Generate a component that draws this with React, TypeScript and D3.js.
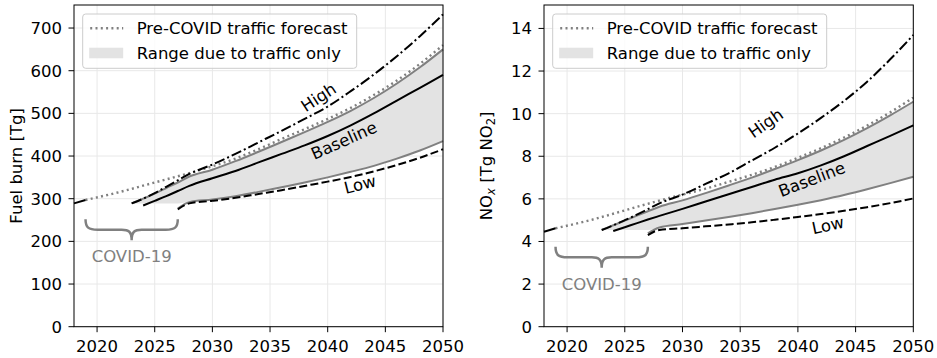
import React, { useRef, useEffect } from 'react';
import * as d3 from 'd3';

// years
const histYears = [2018, 2019];
const preCovidYears = [2019, 2022, 2025, 2028, 2030, 2032, 2034, 2036, 2038, 2040, 2042, 2044, 2046, 2048, 2050];
const scenarioYears = [2023, 2024, 2025, 2026, 2027, 2028, 2030, 2032, 2034, 2036, 2038, 2040, 2042, 2044, 2046, 2048, 2050];
const covidSpan = [2019, 2027];

// fuel burn [Tg]
const fuelHist = [289, 297];
const fuelPreCovid = [297, 316, 338, 360, 376, 394, 416, 440, 463, 487, 513, 543, 577, 616, 660];
const fuelHigh = [289, 300, 313, 328, 343, 358, 380, 405, 432, 459, 487, 516, 552, 591, 634, 681, 732];
const fuelTrafficHigh = [289, 300, 312, 325, 338, 352, 368, 388, 410, 433, 456, 480, 506, 536, 570, 608, 650];
const fuelBaseline = [null, 284, 295, 306, 318, 330, 348, 365, 385, 405, 425, 447, 472, 500, 530, 560, 590];
const fuelTrafficLow = [null, null, null, null, 277, 292, 298, 306, 316, 327, 338, 350, 363, 377, 394, 413, 435];
const fuelLow = [null, null, null, null, 275, 289, 295, 302, 311, 320, 330, 340, 351, 364, 379, 396, 416];
const fuelBandFloor = 289;

// NOx [Tg NO2]
const noxHist = [4.46, 4.62];
const noxPreCovid = [4.62, 5.0, 5.46, 5.92, 6.2, 6.48, 6.8, 7.13, 7.5, 7.93, 8.38, 8.88, 9.44, 10.06, 10.76];
const noxHigh = [4.54, 4.76, 5.0, 5.25, 5.52, 5.79, 6.2, 6.7, 7.2, 7.8, 8.4, 9.07, 9.8, 10.6, 11.5, 12.55, 13.69];
const noxTrafficHigh = [4.54, 4.76, 4.98, 5.2, 5.42, 5.63, 5.93, 6.27, 6.63, 7.0, 7.4, 7.82, 8.27, 8.77, 9.32, 9.92, 10.56];
const noxBaseline = [null, 4.49, 4.67, 4.85, 5.03, 5.2, 5.53, 5.88, 6.22, 6.56, 6.9, 7.2, 7.57, 8.0, 8.48, 8.96, 9.45];
const noxTrafficLow = [null, null, null, null, 4.38, 4.66, 4.82, 4.98, 5.15, 5.33, 5.52, 5.72, 5.94, 6.18, 6.45, 6.74, 7.04];
const noxLow = [null, null, null, null, 4.3, 4.54, 4.62, 4.71, 4.8, 4.9, 5.02, 5.15, 5.29, 5.44, 5.61, 5.8, 6.02];
const noxBandFloor = 4.54;

const xTicks = [2020, 2025, 2030, 2035, 2040, 2045, 2050];
const fuelTicks = [0, 100, 200, 300, 400, 500, 600, 700];
const noxTicks = [0, 2, 4, 6, 8, 10, 12, 14];

const FONT = '"DejaVu Sans", sans-serif';
const FS = 16.5;
const TOP = 5;
const BOTTOM = 326.7;
const GRAY = '#808080';

type Panel = {
  x0: number; x1: number; yMax: number; yTicks: number[];
  hist: number[]; preCovid: number[]; high: number[]; trafficHigh: number[];
  baseline: (number | null)[]; trafficLow: (number | null)[]; low: (number | null)[];
  floor: number;
  labels: { text: string; yr: number; v: number; angle: number }[];
  braceTop: number; covidLabel: number;
  ylabel: 'fuel' | 'nox';
};

const panels: Panel[] = [
  {
    x0: 74, x1: 443, yMax: 754, yTicks: fuelTicks,
    hist: fuelHist, preCovid: fuelPreCovid, high: fuelHigh, trafficHigh: fuelTrafficHigh,
    baseline: fuelBaseline, trafficLow: fuelTrafficLow, low: fuelLow, floor: fuelBandFloor,
    labels: [
      { text: 'High', yr: 2039.2, v: 538, angle: -33 },
      { text: 'Baseline', yr: 2041.4, v: 437, angle: -24 },
      { text: 'Low', yr: 2042.8, v: 334, angle: -14 },
    ],
    braceTop: 252, covidLabel: 166, ylabel: 'fuel',
  },
  {
    x0: 544, x1: 913.3, yMax: 15.1, yTicks: noxTicks,
    hist: noxHist, preCovid: noxPreCovid, high: noxHigh, trafficHigh: noxTrafficHigh,
    baseline: noxBaseline, trafficLow: noxTrafficLow, low: noxLow, floor: noxBandFloor,
    labels: [
      { text: 'High', yr: 2037.2, v: 9.56, angle: -35 },
      { text: 'Baseline', yr: 2041.2, v: 6.93, angle: -21 },
      { text: 'Low', yr: 2042.6, v: 4.77, angle: -12 },
    ],
    braceTop: 3.75, covidLabel: 2.0, ylabel: 'nox',
  },
];

function drawPanel(svg: d3.Selection<SVGSVGElement, unknown, null, undefined>, p: Panel) {
  const x = d3.scaleLinear().domain([2018, 2050]).range([p.x0, p.x1]);
  const y = d3.scaleLinear().domain([0, p.yMax]).range([BOTTOM, TOP]);
  const g = svg.append('g').attr('font-family', FONT).attr('font-size', FS);

  // grid
  g.append('g').selectAll('line').data(xTicks).join('line')
    .attr('x1', d => x(d)).attr('x2', d => x(d)).attr('y1', TOP).attr('y2', BOTTOM)
    .attr('stroke', '#e8e8e8').attr('stroke-width', 1);
  g.append('g').selectAll('line').data(p.yTicks).join('line')
    .attr('x1', p.x0).attr('x2', p.x1).attr('y1', d => y(d)).attr('y2', d => y(d))
    .attr('stroke', '#e8e8e8').attr('stroke-width', 1);

  // band due to traffic
  const band = scenarioYears.map((yr, i) => ({
    yr, hi: p.trafficHigh[i], lo: Math.max(p.trafficLow[i] ?? p.floor, p.floor),
  }));
  g.append('path').datum(band)
    .attr('d', d3.area<{ yr: number; hi: number; lo: number }>()
      .x(d => x(d.yr)).y0(d => y(d.lo)).y1(d => y(d.hi)).curve(d3.curveMonotoneX))
    .attr('fill', '#e3e3e3');

  const line = d3.line<[number, number | null]>()
    .defined(d => d[1] != null)
    .x(d => x(d[0])).y(d => y(d[1] as number))
    .curve(d3.curveMonotoneX);
  const pairs = (yrs: number[], vals: (number | null)[]) => yrs.map((yr, i) => [yr, vals[i]] as [number, number | null]);

  const addLine = (data: [number, number | null][], color: string, dash: string | null, w = 2) => {
    const path = g.append('path').datum(data).attr('d', line).attr('fill', 'none')
      .attr('stroke', color).attr('stroke-width', w);
    if (dash) path.attr('stroke-dasharray', dash);
  };

  addLine(pairs(scenarioYears, p.trafficHigh), GRAY, null);
  addLine(pairs(scenarioYears, p.trafficLow), GRAY, null);
  addLine(pairs(preCovidYears, p.preCovid), GRAY, '2,3.3', 2.4);
  addLine(pairs(histYears, p.hist), '#000', null);
  addLine(pairs(scenarioYears, p.high), '#000', '10.5,3,2,3');
  addLine(pairs(scenarioYears, p.baseline), '#000', null);
  addLine(pairs(scenarioYears, p.low), '#000', '8,3.3');

  // scenario labels
  g.append('g').selectAll('text').data(p.labels).join('text')
    .attr('transform', d => `translate(${x(d.yr)},${y(d.v)}) rotate(${d.angle})`)
    .attr('text-anchor', 'middle').attr('dy', '0.36em')
    .text(d => d.text);

  // COVID-19 brace
  const xa = x(covidSpan[0]);
  const xb = x(covidSpan[1]);
  const xm = (xa + xb) / 2;
  const yt = y(p.braceTop);
  const h = 10.5;
  const brace = `M${xa},${yt} C${xa},${yt + h * 0.8} ${xa + 3},${yt + h} ${xa + 12},${yt + h}`
    + ` L${xm - 10},${yt + h} C${xm - 3},${yt + h} ${xm},${yt + h + 2} ${xm},${yt + 2 * h}`
    + ` M${xb},${yt} C${xb},${yt + h * 0.8} ${xb - 3},${yt + h} ${xb - 12},${yt + h}`
    + ` L${xm + 10},${yt + h} C${xm + 3},${yt + h} ${xm},${yt + h + 2} ${xm},${yt + 2 * h}`;
  g.append('path').attr('d', brace).attr('fill', 'none').attr('stroke', GRAY).attr('stroke-width', 2.5);
  g.append('text').attr('x', x(2023)).attr('y', y(p.covidLabel)).attr('dy', '0.36em')
    .attr('text-anchor', 'middle').attr('fill', GRAY).text('COVID-19');

  // spines
  g.append('rect').attr('x', p.x0).attr('y', TOP).attr('width', p.x1 - p.x0).attr('height', BOTTOM - TOP)
    .attr('fill', 'none').attr('stroke', '#000').attr('stroke-width', 1);

  // x axis ticks
  const xt = g.append('g').selectAll('g').data(xTicks).join('g')
    .attr('transform', d => `translate(${x(d)},${BOTTOM})`);
  xt.append('line').attr('y2', 5.5).attr('stroke', '#000').attr('stroke-width', 1);
  xt.append('text').attr('y', 25.5).attr('text-anchor', 'middle').text(d => d);

  // y axis ticks
  const yt2 = g.append('g').selectAll('g').data(p.yTicks).join('g')
    .attr('transform', d => `translate(${p.x0},${y(d)})`);
  yt2.append('line').attr('x2', -5.5).attr('stroke', '#000').attr('stroke-width', 1);
  yt2.append('text').attr('x', -12).attr('dy', '0.36em').attr('text-anchor', 'end').text(d => d);

  // y label
  const lab = g.append('text')
    .attr('transform', `translate(${p.x0 - 52.5},${(TOP + BOTTOM) / 2}) rotate(-90)`)
    .attr('text-anchor', 'middle');
  if (p.ylabel === 'fuel') {
    lab.text('Fuel burn [Tg]');
  } else {
    lab.append('tspan').text('NO');
    lab.append('tspan').attr('font-style', 'italic').attr('font-size', FS * 0.7).attr('dy', 3.5).text('x');
    lab.append('tspan').attr('dy', -3.5).text(' [Tg NO');
    lab.append('tspan').attr('font-size', FS * 0.7).attr('dy', 3.5).text('2');
    lab.append('tspan').attr('dy', -3.5).text(']');
  }

  // legend
  const lg = g.append('g').attr('transform', `translate(${p.x0 + 8.7},14)`);
  lg.append('rect').attr('width', 274).attr('height', 54.3).attr('rx', 3)
    .attr('fill', '#fff').attr('fill-opacity', 0.8).attr('stroke', '#cccccc').attr('stroke-width', 1);
  lg.append('line').attr('x1', 7.5).attr('x2', 40.5).attr('y1', 14.3).attr('y2', 14.3)
    .attr('stroke', GRAY).attr('stroke-width', 2.4).attr('stroke-dasharray', '2,3.3');
  lg.append('text').attr('x', 54).attr('y', 20.2).text('Pre-COVID traffic forecast');
  lg.append('rect').attr('x', 6.5).attr('y', 33.7).attr('width', 34).attr('height', 10.6).attr('fill', '#e3e3e3');
  lg.append('text').attr('x', 54).attr('y', 44.5).text('Range due to traffic only');
}

const App: React.FC = () => {
  const svgRef = useRef<SVGSVGElement>(null);

  useEffect(() => {
    if (!svgRef.current) return;
    document.body.style.margin = '0';
    const svg = d3.select(svgRef.current);
    svg.selectAll('*').remove();
    panels.forEach(p => drawPanel(svg, p));
  }, []);

  return <svg ref={svgRef} width={937} height={358} style={{ display: 'block', background: '#fff' }} />;
};

export default App;
